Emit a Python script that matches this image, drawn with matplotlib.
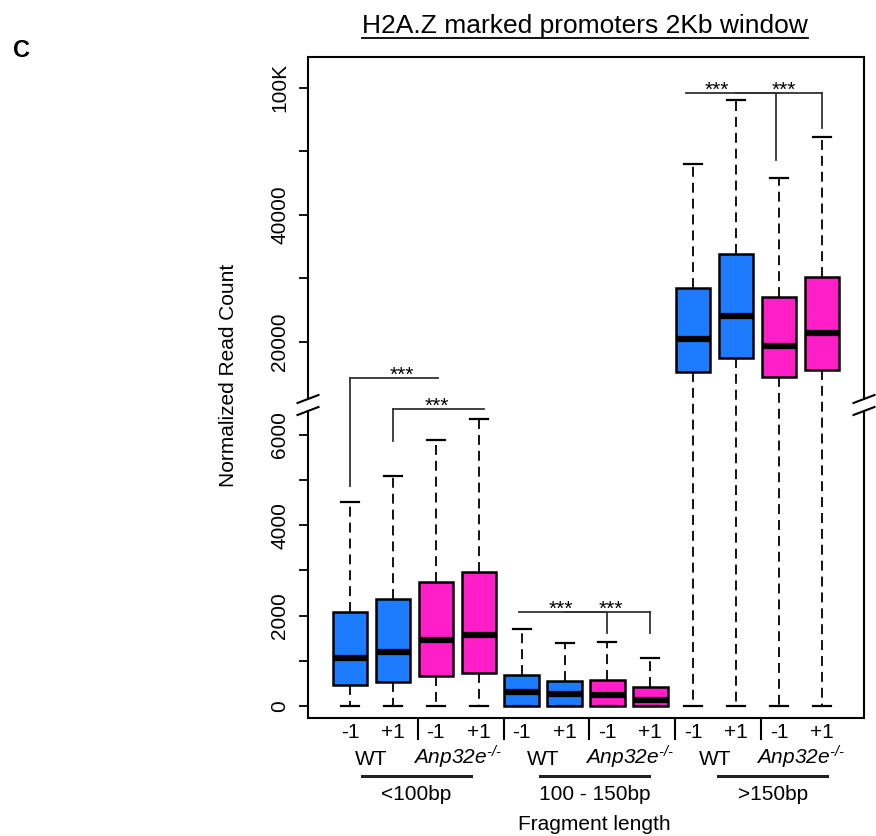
import numpy as np
import matplotlib
matplotlib.use('Agg')
import matplotlib.pyplot as plt
from matplotlib.lines import Line2D
from matplotlib.transforms import blended_transform_factory, IdentityTransform

plt.rcParams['font.family'] = ['Liberation Sans', 'DejaVu Sans']
plt.rcParams['mathtext.fontset'] = 'custom'
plt.rcParams['mathtext.rm'] = 'Liberation Sans:italic'
plt.rcParams['mathtext.it'] = 'Liberation Sans:italic'

# box statistics (upper panel in its own axis units)
positions = np.arange(1, 13)
whislo = [0, 0, 0, 0, 0, 0, 0, 0, 0, 0, 0, 0]
q1 = [465, 538, 670, 722, 0, 0, 0, 0, 15330, 17531, 14544, 15597]
med = [1055, 1202, 1467, 1571, 302, 265, 250, 133, 20472, 24088, 19418, 21462]
q3 = [2086, 2367, 2750, 2971, 686, 553, 568, 427, 28443, 33790, 27123, 30267]
whishi = [4520, 5095, 5885, 6350, 1696, 1394, 1409, 1055, 47987, 58097, 45739, 52185]
genotype = ['WT', 'WT', 'Anp', 'Anp'] * 3
tick_labels = ['-1', '+1'] * 6
groups = ['<100bp', '100 - 150bp', '>150bp']
group_centers = [2.55, 6.7, 10.85]

# significance brackets: x start, x end, y, leg x, leg end y, star x
brackets = [
    (1.0, 3.04, 14387, 1.0, 4867, 2.2),
    (2.0, 4.13, 7200, 2.0, 5863, 3.02),
    (4.94, 7.0, 2086, 7.0, 1615, 5.92),
    (6.0, 8.0, 2086, 8.0, 1615, 7.08),
    (8.84, 11.0, 59151, 10.93, 48616, 9.56),
    (10.0, 12.0, 59151, 12.0, 53648, 11.12),
]

colors = {'WT': '#1C7BFF', 'Anp': '#FF1EC8'}

# broken y axis: lower part up to LOW_TOP, upper part from HIGH_BOTTOM
LOW_TOP = 6527
HIGH_BOTTOM = 11038
LOW_SLOPE = 0.0452
HIGH_SLOPE = 0.00636
GAP = 12
_v = [-1e7, LOW_TOP, HIGH_BOTTOM, 1e8]
_p = [-1e7 * LOW_SLOPE, LOW_TOP * LOW_SLOPE, LOW_TOP * LOW_SLOPE + GAP,
      LOW_TOP * LOW_SLOPE + GAP + (1e8 - HIGH_BOTTOM) * HIGH_SLOPE]


def forward(v):
    return np.interp(v, _v, _p)


def inverse(p):
    return np.interp(p, _p, _v)


fig = plt.figure(figsize=(8.76, 8.36), dpi=100)
ax = fig.add_axes([308 / 876, 1 - 718 / 836, 556 / 876, 661 / 836])
ax.set_yscale('function', functions=(forward, inverse))

stats = [dict(med=m, q1=a, q3=b, whislo=lo, whishi=hi, fliers=[])
         for m, a, b, lo, hi in zip(med, q1, q3, whislo, whishi)]
bp = ax.bxp(stats, positions=positions, widths=0.8, patch_artist=True,
            showfliers=False, capwidths=0.42,
            boxprops=dict(lw=1.8, edgecolor='black'),
            medianprops=dict(color='black', lw=4.5, solid_capstyle='butt'),
            whiskerprops=dict(color='black', lw=1.3, linestyle=(0, (5.5, 3.3))),
            capprops=dict(color='black', lw=1.6))
for patch, g in zip(bp['boxes'], genotype):
    patch.set_facecolor(colors[g])

ax.set_xlim(0.02, 12.98)
ax.set_ylim(-265, 64811)

# brackets and stars
for x0, x1, y, lx, ly, sx in brackets:
    ax.plot([x0, x1], [y, y], color='#333333', lw=1.3, clip_on=False)
    ax.plot([lx, lx], [y, ly], color='#333333', lw=1.3, clip_on=False)
    ax.annotate('***', xy=(sx, y), xytext=(0, -2), textcoords='offset points',
                ha='center', va='baseline', fontsize=15, annotation_clip=False)

# y ticks
yt = [0, 1000, 2000, 3000, 4000, 5000, 6000, 20000, 30000, 40000, 50000, 60000]
ytl = ['0', '', '2000', '', '4000', '', '6000', '20000', '', '40000', '', '100K']
ax.set_yticks(yt, ytl)
ax.minorticks_off()
ax.tick_params(axis='y', direction='out', length=6.5, width=1.3,
               labelsize=15, pad=7, labelrotation=90)
for t in ax.get_yticklabels():
    t.set_va('center')
ax.set_xticks([])

# frame with breaks
for side in ('left', 'right'):
    ax.spines[side].set_visible(False)
for side in ('top', 'bottom'):
    ax.spines[side].set_linewidth(1.5)
trans = blended_transform_factory(ax.transAxes, ax.transData)
for xa in (0, 1):
    ax.plot([xa, xa], [-265, LOW_TOP], transform=trans, color='black', lw=1.5, clip_on=False)
    ax.plot([xa, xa], [HIGH_BOTTOM, 64811], transform=trans, color='black', lw=1.5, clip_on=False)
    for yv in (LOW_TOP, HIGH_BOTTOM):
        px, py = trans.transform((xa, yv))
        fig.add_artist(Line2D([px - 10.5, px + 10.5], [py - 4, py + 4],
                              transform=IdentityTransform(), color='black', lw=1.5))

# x labels below the axis
xtrans = blended_transform_factory(ax.transData, ax.transAxes)
for x, lab in zip(positions, tick_labels):
    ax.annotate(lab, xy=(x, 0), xycoords=xtrans, xytext=(0, -14.4),
                textcoords='offset points', ha='center', va='baseline',
                fontsize=15, annotation_clip=False)
for x in positions[2::2]:
    ax.plot([x - 0.42, x - 0.42], [-2 / 661, -21 / 661], transform=xtrans,
            color='black', lw=1.5, clip_on=False)
for k in range(3):
    base = 1 + 4 * k
    ax.annotate('WT', xy=(base + 0.5, 0), xycoords=xtrans, xytext=(0, -33.8),
                textcoords='offset points', ha='center', va='baseline',
                fontsize=15, annotation_clip=False)
    ax.annotate(r'$\mathrm{Anp32e}^{\text{-/-}}$', xy=(base + 2.5, 0), xycoords=xtrans,
                xytext=(0, -33.8), textcoords='offset points', ha='center',
                va='baseline', fontsize=15, annotation_clip=False)
for c, g in zip(group_centers, groups):
    ax.plot([c - 1.27, c + 1.27], [-58 / 661, -58 / 661], transform=xtrans,
            color='#222222', lw=2.2, clip_on=False)
    ax.annotate(g, xy=(c, 0), xycoords=xtrans, xytext=(0, -59),
                textcoords='offset points', ha='center', va='baseline',
                fontsize=15, annotation_clip=False)
ax.annotate('Fragment length', xy=(6.7, 0), xycoords=xtrans, xytext=(0, -80.6),
            textcoords='offset points', ha='center', va='baseline',
            fontsize=15, annotation_clip=False)

fig.text(228 / 876, 1 - 375 / 836, 'Normalized Read Count', rotation=90,
         ha='center', va='center', fontsize=15)
fig.text(13 / 876, 1 - 57 / 836, 'C', ha='left', va='baseline',
         fontsize=17, fontweight='bold')
title = fig.text(585 / 876, 1 - 33 / 836, 'H2A.Z marked promoters 2Kb window',
                 ha='center', va='baseline', fontsize=19)

fig.canvas.draw()
bb = title.get_window_extent()
ty = fig.transFigure.transform((0, 1 - 33 / 836))[1]
fig.add_artist(Line2D([bb.x0, bb.x1], [ty - 4.5, ty - 4.5],
                      transform=IdentityTransform(), color='black', lw=1.3))

fig.savefig('out.png', dpi=100)
